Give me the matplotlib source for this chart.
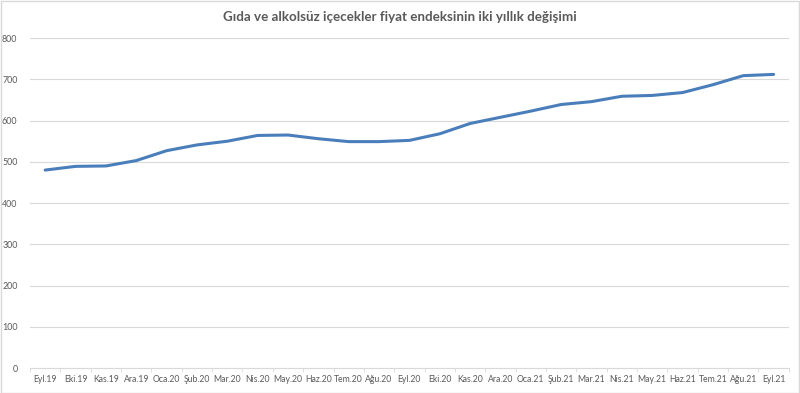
import numpy as np
import matplotlib.pyplot as plt

months = ["Eyl.19", "Eki.19", "Kas.19", "Ara.19", "Oca.20", "Şub.20", "Mar.20",
          "Nis.20", "May.20", "Haz.20", "Tem.20", "Ağu.20", "Eyl.20", "Eki.20",
          "Kas.20", "Ara.20", "Oca.21", "Şub.21", "Mar.21", "Nis.21", "May.21",
          "Haz.21", "Tem.21", "Ağu.21", "Eyl.21"]
values = [480, 489, 490, 503, 527, 541, 550, 564, 565, 556, 549, 549, 552, 568,
          593, 608, 623, 639, 646, 659, 661, 668, 687, 709, 712]
yticks = [0, 100, 200, 300, 400, 500, 600, 700, 800]

plt.rcParams['font.family'] = ['Lato', 'DejaVu Sans']

fig = plt.figure(figsize=(8, 3.93), dpi=100)
ax = fig.add_axes([0.0375, 0.0636, 0.9485, 0.8394])

x = np.arange(len(months))
ax.plot(x, values, color='#4a7ebb', linewidth=2.2, solid_capstyle='round')

ax.set_xlim(-0.5, len(months) - 0.5)
ax.set_ylim(0, 800)
ax.set_yticks(yticks)
ax.set_xticks(x)
ax.set_xticklabels(months)
ax.set_xticks(np.arange(-0.5, len(months), 1), minor=True)
ax.tick_params(axis='x', which='major', length=0, labelsize=6.2, colors='#595959', pad=5)
ax.tick_params(axis='x', which='minor', length=3, color='#d9d9d9')
ax.tick_params(axis='y', length=0, labelsize=6.4, colors='#595959', pad=9)
ax.grid(axis='y', color='#d9d9d9', linewidth=0.8)
ax.set_axisbelow(True)
for s in ['top', 'right', 'left']:
    ax.spines[s].set_visible(False)
ax.spines['bottom'].set_color('#d9d9d9')

fig.text(0.5, 0.957, "Gıda ve alkolsüz içecekler fiyat endeksinin iki yıllık değişimi",
         ha='center', va='center', fontsize=9.6, color='#595959', fontweight='bold')

fig.patches.append(plt.Rectangle((0.001, 0.001), 0.998, 0.997, transform=fig.transFigure,
                                 fill=False, edgecolor='#d9d9d9', linewidth=1))

fig.savefig('out.png', dpi=100)
